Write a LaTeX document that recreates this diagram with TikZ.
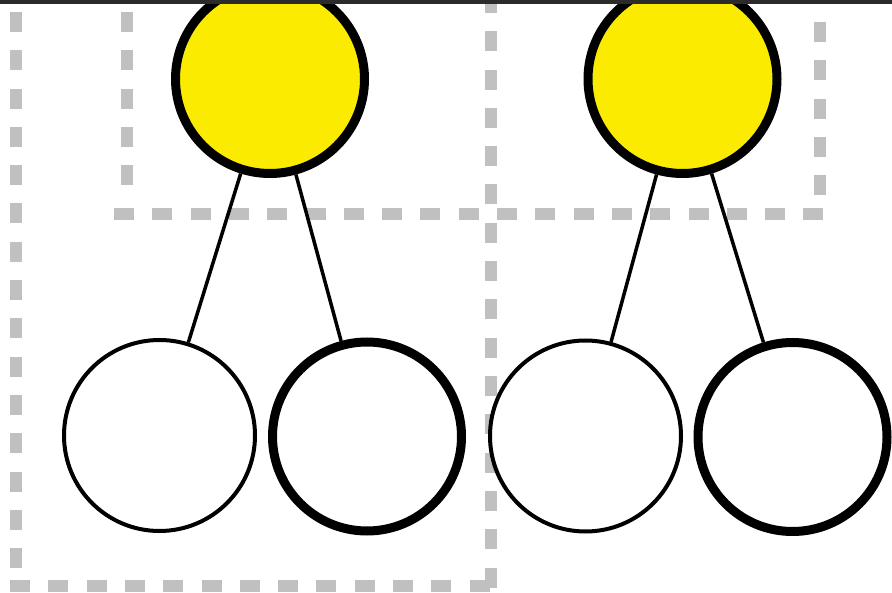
\documentclass[tikz,border=0pt]{standalone}
\definecolor{dashgray}{RGB}{192,192,192}
\definecolor{nodeyellow}{RGB}{250,235,0}
\definecolor{topbar}{RGB}{43,43,43}
\tikzset{
  guide/.style={draw=dashgray, line width=12pt, line cap=butt, dash pattern=on 20pt off 18.3pt},
  rootnode/.style={circle, draw=black, fill=nodeyellow, line width=9pt, minimum size=189pt, inner sep=0pt},
  leafthin/.style={circle, draw=black, fill=white, line width=4pt, minimum size=191pt, inner sep=0pt},
  leafthick/.style={circle, draw=black, fill=white, line width=9pt, minimum size=189pt, inner sep=0pt},
  link/.style={draw=black, line width=3.5pt}
}
\begin{document}
\begin{tikzpicture}[x=1pt, y=-1pt]
\useasboundingbox (0,0) rectangle (892,593);
\clip (0,0) rectangle (892,593);
\fill[white] (0,0) rectangle (892,593);
% big dashed frame (open at top)
\coordinate (bigA) at (16,12);
\coordinate (bigB) at (16,580);
\coordinate (bigC) at (10,586);
\coordinate (bigD) at (497,586);
\coordinate (midA) at (491,-7);
\coordinate (midB) at (491,592);
\draw[guide] (bigA) -- (bigB);
\draw[guide] (bigC) -- (bigD);
\draw[guide] (midA) -- (midB);
% small dashed frame (open at top)
\coordinate (smA) at (127,12);
\coordinate (smB) at (127,200);
\coordinate (smC) at (114,214);
\coordinate (smD) at (826,214);
\coordinate (smE) at (820,22);
\coordinate (smF) at (820,208);
\draw[guide] (smA) -- (smB);
\draw[guide] (smC) -- (smD);
\draw[guide] (smE) -- (smF);
% nodes
\node[rootnode] (r1) at (270,79) {};
\node[rootnode] (r2) at (682.5,79) {};
\node[leafthin] (l1) at (159.5,435.5) {};
\node[leafthick] (l2) at (367,436.5) {};
\node[leafthin] (l3) at (585.5,436) {};
\node[leafthick] (l4) at (792.5,437) {};
% links
\draw[link] (r1) -- (l1);
\draw[link] (r1) -- (l2);
\draw[link] (r2) -- (l3);
\draw[link] (r2) -- (l4);
% top bar
\fill[topbar] (0,0) rectangle (892,4);
\end{tikzpicture}
\end{document}
